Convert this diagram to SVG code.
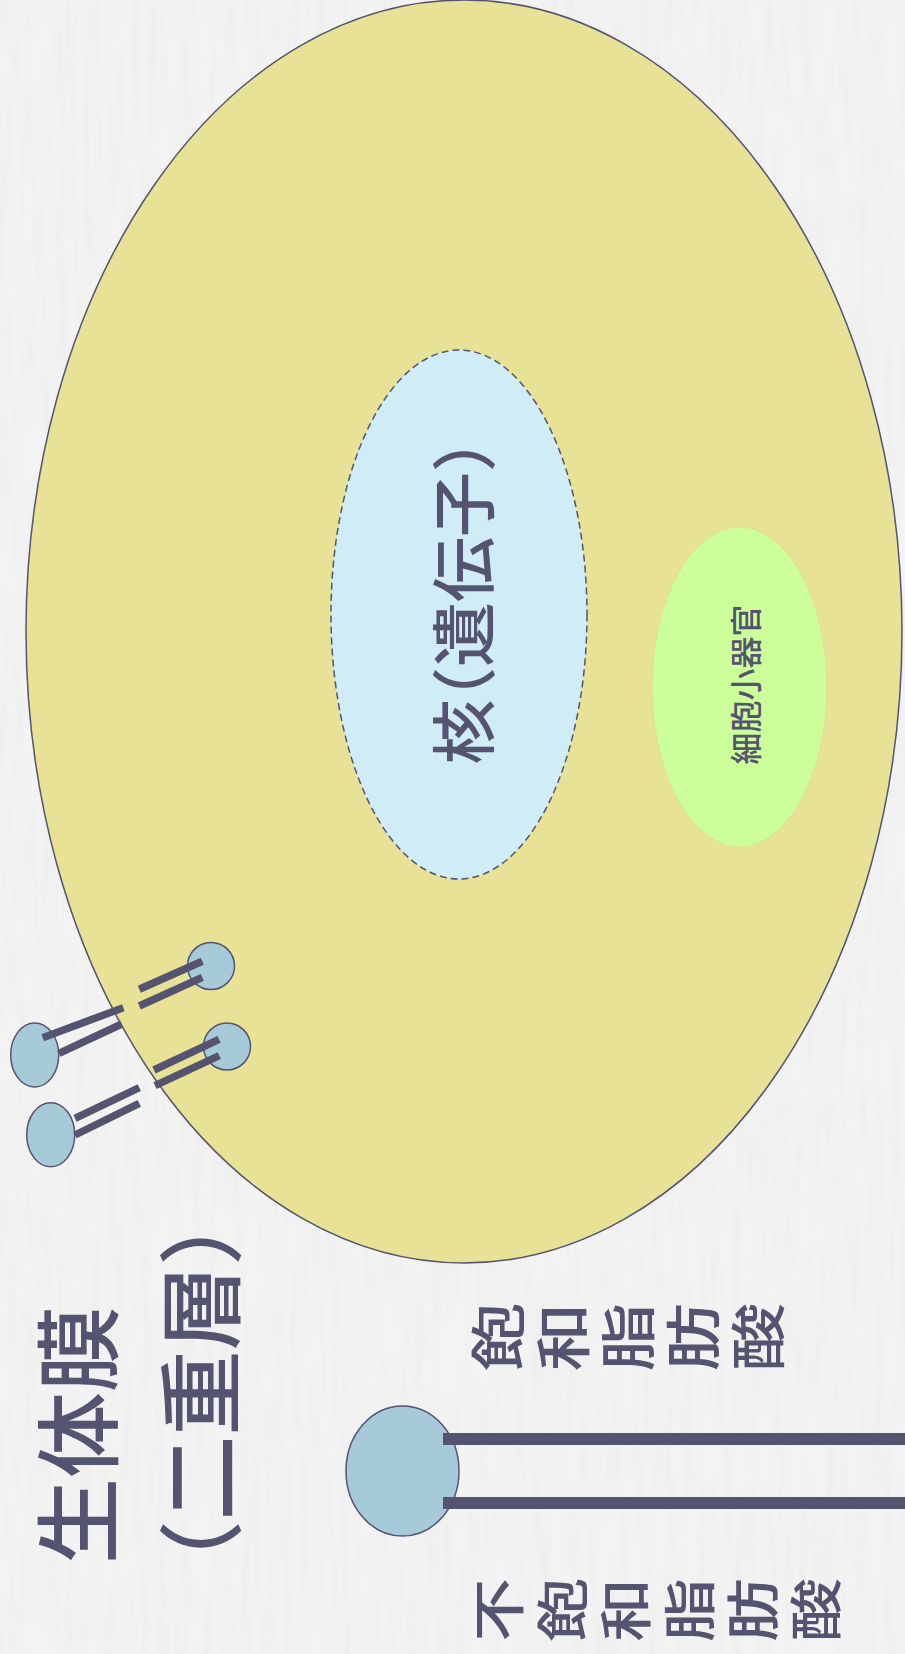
<svg xmlns="http://www.w3.org/2000/svg" width="905" height="1654" viewBox="0 0 905 1654">
  <defs>
    <!-- faint paper grain, streaks running vertically -->
    <filter id="paper" x="0" y="0" width="905" height="1654" filterUnits="userSpaceOnUse">
      <feTurbulence type="fractalNoise" baseFrequency="0.12 0.01" numOctaves="3" seed="7" result="n"/>
      <feColorMatrix in="n" type="matrix" values="0 0 0 0 0.78  0 0 0 0 0.78  0 0 0 0 0.78  0.7 0 0 0 -0.27"/>
    </filter>
    <style>
      .lbl { font-family: "Noto Sans CJK JP", "Noto Sans CJK SC", sans-serif; font-weight: 500; fill: #555470; }
      .halt { font-feature-settings: "halt"; }
      .vert { writing-mode: vertical-rl; text-anchor: middle; }
      .head { fill: #a6cad8; stroke: #555470; stroke-width: 1.5; }
      .tail { stroke: #555470; stroke-width: 7.5; stroke-linecap: butt; fill: none; }
      .bar { fill: #555470; }
    </style>
  </defs>

  <!-- background -->
  <g id="background">
    <rect width="905" height="1654" fill="#f3f3f3"/>
    <rect width="905" height="1654" filter="url(#paper)"/>
  </g>

  <!-- cell body -->
  <g id="cell">
    <ellipse cx="464" cy="631.5" rx="438" ry="631.5" fill="#e7e296" stroke="#555470" stroke-width="1.5"/>
  </g>

  <!-- nucleus -->
  <g id="nucleus">
    <ellipse cx="459" cy="614.5" rx="128" ry="264.5" fill="#cfecf7" stroke="#555470" stroke-width="1.5" stroke-dasharray="7 4"/>
    <text class="lbl halt" font-size="65" text-anchor="middle" transform="translate(488,602) rotate(-90)">核（遺伝子）</text>
  </g>

  <!-- organelle -->
  <g id="organelle">
    <ellipse cx="739.5" cy="687" rx="87.5" ry="160" fill="#ccff99" stroke="#dde392" stroke-width="1.5"/>
    <text class="lbl" font-size="32" text-anchor="middle" transform="translate(757.5,684.5) rotate(-90)">細胞小器官</text>
  </g>

  <!-- phospholipids crossing the membrane -->
  <g id="lipid-1">
    <circle class="head" cx="211" cy="966" r="23.5"/>
    <line class="tail" x1="139.3" y1="989.3" x2="202.3" y2="961.3"/>
    <line class="tail" x1="139.3" y1="1006" x2="202.3" y2="977.3"/>
  </g>
  <g id="lipid-2">
    <circle class="head" cx="227" cy="1046.5" r="23.5"/>
    <line class="tail" x1="154" y1="1070" x2="219" y2="1039.3"/>
    <line class="tail" x1="155" y1="1085.7" x2="219.3" y2="1055.7"/>
  </g>
  <g id="lipid-3">
    <ellipse class="head" cx="34.7" cy="1055" rx="24" ry="32"/>
    <line class="tail" x1="42.7" y1="1037.7" x2="123.3" y2="1007.7"/>
    <line class="tail" x1="59" y1="1053.3" x2="121.7" y2="1024"/>
  </g>
  <g id="lipid-4">
    <ellipse class="head" cx="50.7" cy="1134.7" rx="24" ry="32"/>
    <line class="tail" x1="75" y1="1118.3" x2="139.3" y2="1087.7"/>
    <line class="tail" x1="75" y1="1135" x2="139.3" y2="1103.3"/>
  </g>

  <!-- enlarged phospholipid -->
  <g id="lipid-large">
    <ellipse class="head" cx="402.5" cy="1471" rx="56.5" ry="65"/>
    <rect class="bar" x="443" y="1433" width="470" height="12"/>
    <rect class="bar" x="443" y="1497" width="470" height="12"/>
  </g>

  <!-- labels -->
  <g id="label-membrane">
    <text class="lbl" font-size="86" text-anchor="middle" transform="translate(111,1435) rotate(-90)">生体膜</text>
    <text class="lbl halt" font-size="85" text-anchor="middle" transform="translate(233,1393) rotate(-90)">（二重層）</text>
  </g>
  <g id="label-saturated">
    <text class="lbl vert" font-size="56" letter-spacing="9" transform="translate(632,1337) rotate(-90) scale(1.22,1)">飽和脂肪酸</text>
  </g>
  <g id="label-unsaturated">
    <text class="lbl vert" font-size="53" letter-spacing="10.4" transform="translate(663,1610) rotate(-90) scale(1.2,1)">不飽和脂肪酸</text>
  </g>
</svg>
